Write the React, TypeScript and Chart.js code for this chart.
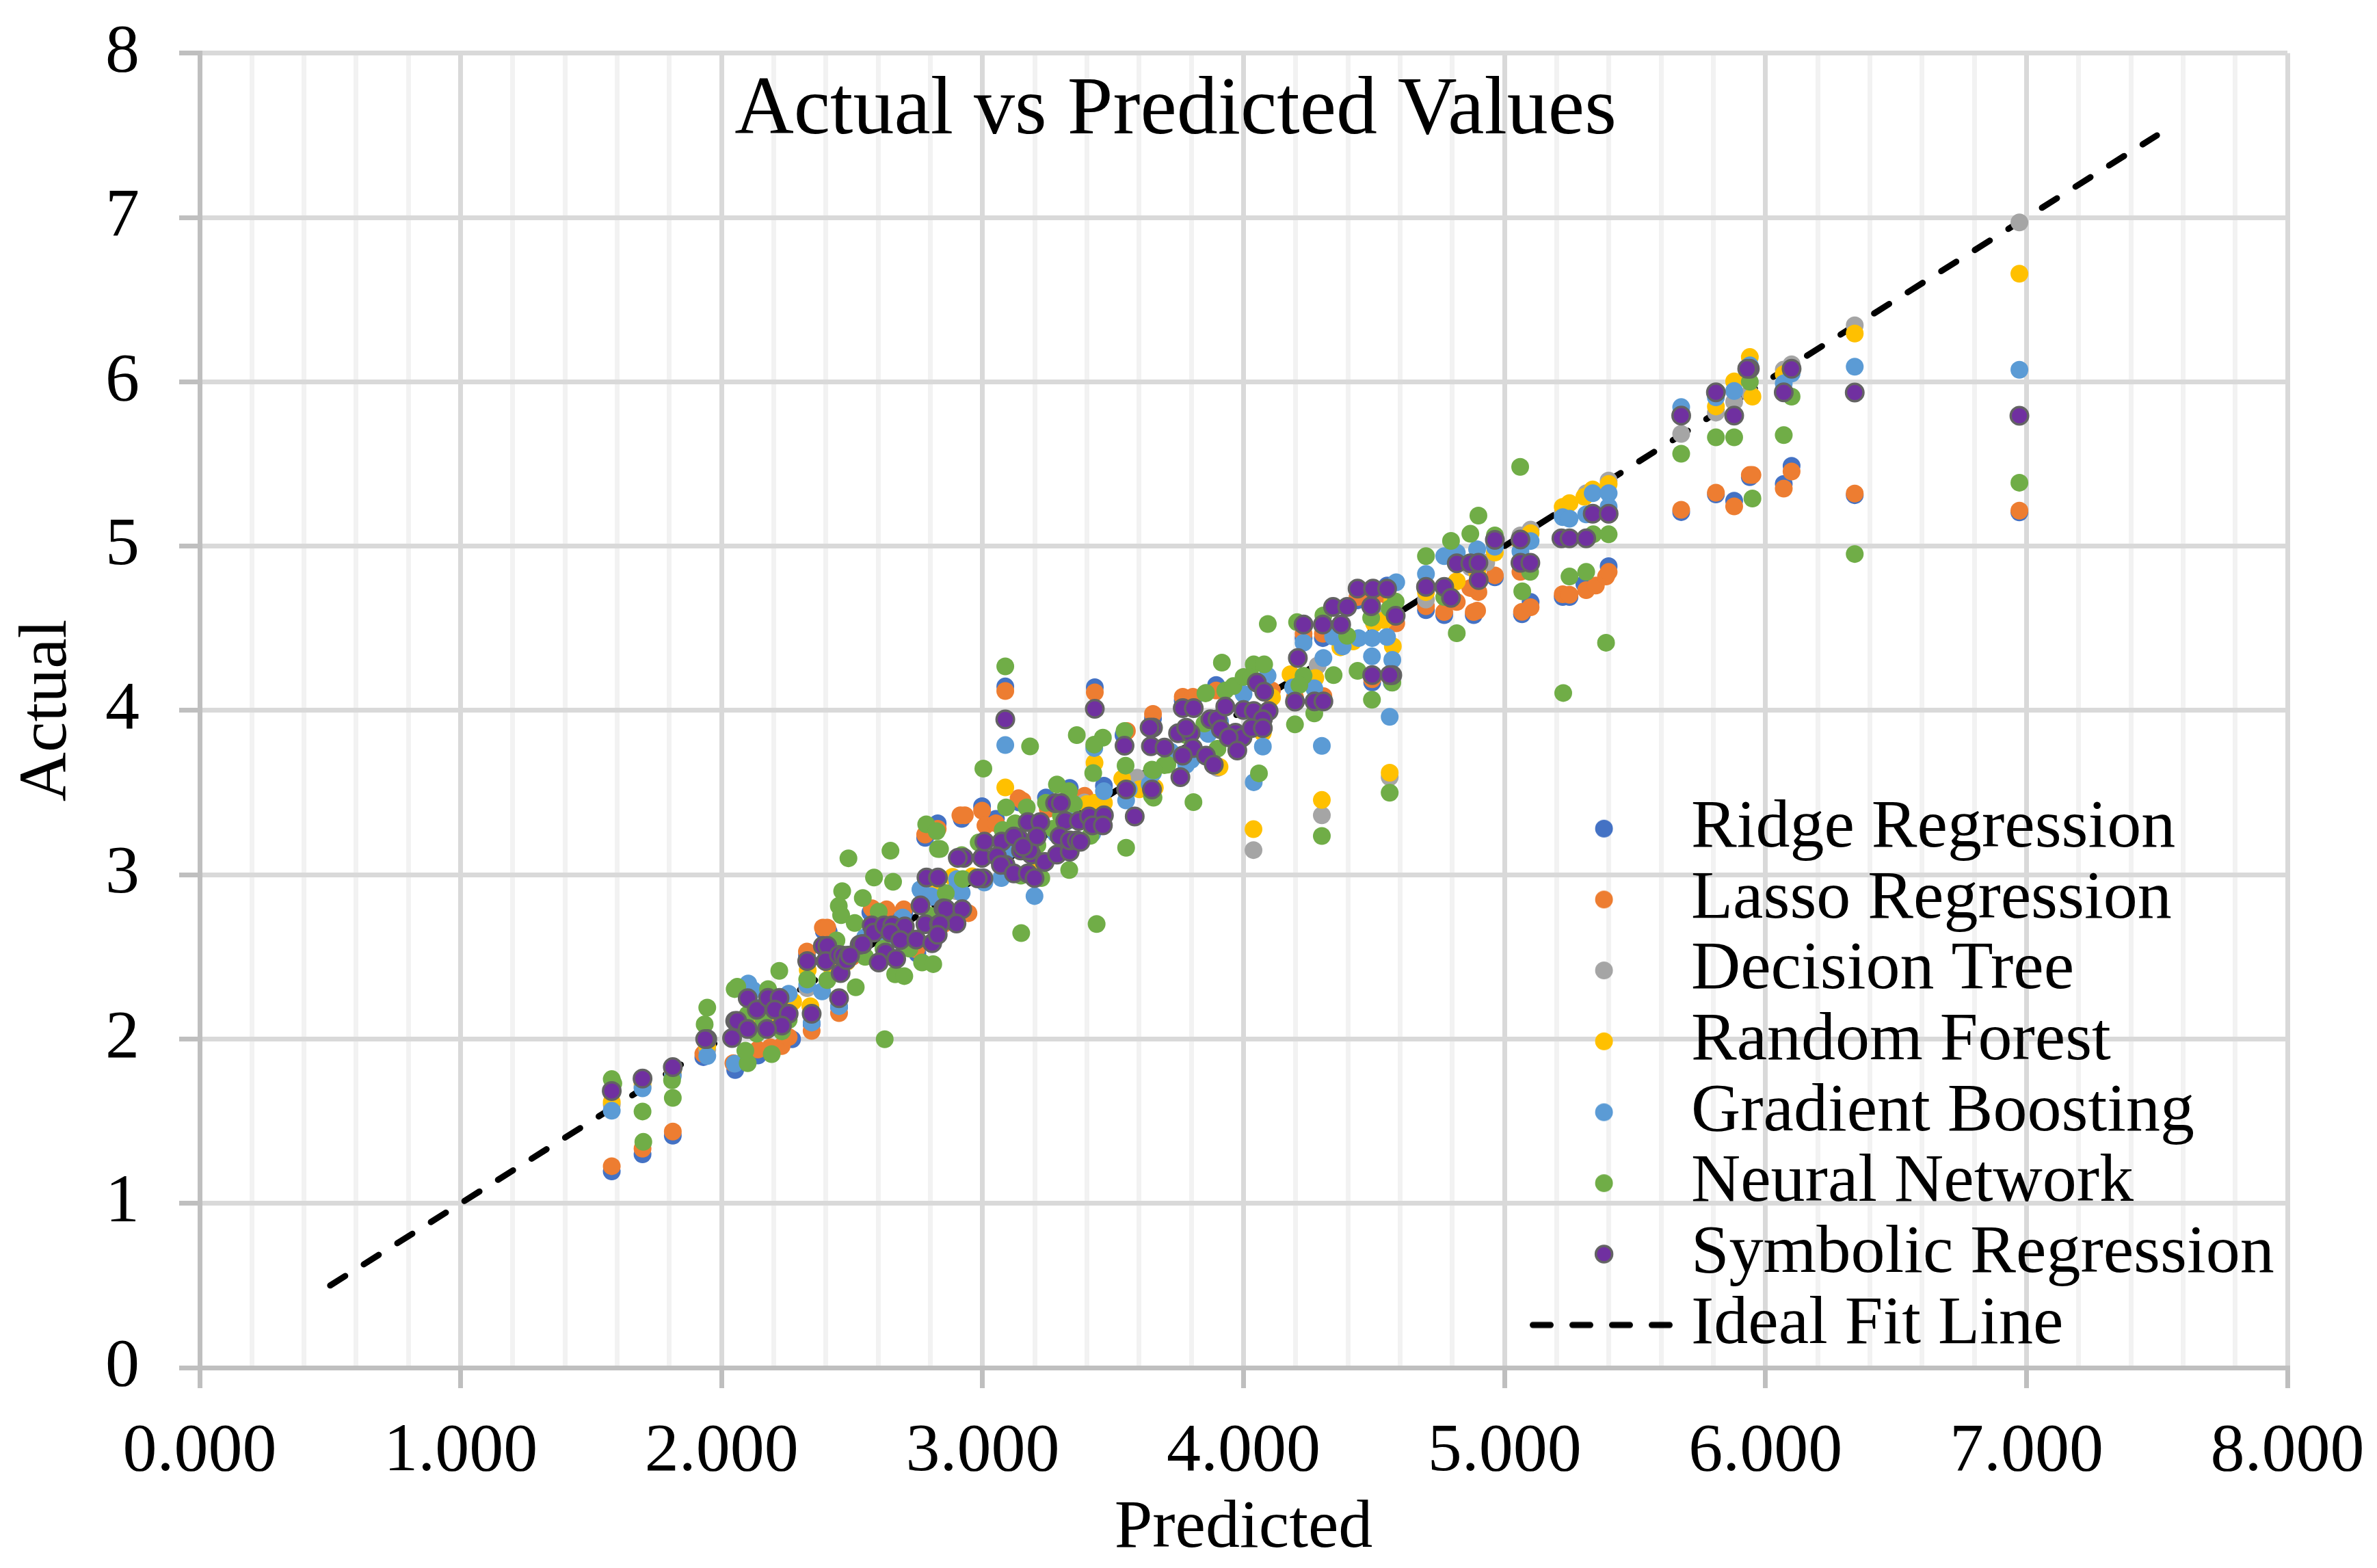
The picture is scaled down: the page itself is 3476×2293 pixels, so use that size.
import React, { useEffect, useRef } from "react";
import { Chart, registerables } from "chart.js";

Chart.register(...registerables);

type Pair = [number, number];

const titleText = "Actual vs Predicted Values";
const xTitle = "Predicted";
const yTitle = "Actual";
const seriesNames = ["Ridge Regression", "Lasso Regression", "Decision Tree", "Random Forest", "Gradient Boosting", "Neural Network", "Symbolic Regression"];
const idealName = "Ideal Fit Line";
const idealLine: Pair[] = [[0.5, 0.5], [7.5, 7.5]];

const ridgePoints: Pair[] = [
  [1.579,1.194],[1.697,1.298],[1.813,1.412],[1.93,1.89],[2.052,1.811],[2.139,1.9],[2.19,1.93],[2.27,1.999],[2.345,2.089],[2.45,2.193],[2.327,2.51],[2.392,2.655],[2.41,2.655],[2.57,2.77],[2.63,2.77],[2.7,2.77],[2.75,2.52],[2.78,3.224],[2.828,3.313],[2.92,3.34],[2.998,3.417],[3.051,3.34],[3.087,4.146],[3.14,3.44],[3.243,3.47],[3.334,3.528],[3.39,3.46],[3.43,4.141],[3.465,3.542],[3.54,3.85],[3.653,3.951],[3.767,4.06],[3.806,4.06],[3.895,4.155],[4.1,4.1],[4.23,4.44],[4.304,4.44],[4.37,4.47],[4.2,4.06],[4.306,4.065],[4.437,4.67],[4.55,4.76],[4.493,4.17],[4.568,4.17],[4.699,4.61],[4.769,4.58],[4.882,4.58],[4.963,4.81],[5.067,4.585],[5.1,4.66],[5.223,4.69],[5.249,4.69],[5.306,4.77],[5.399,4.878],[5.677,5.207],[5.81,5.315],[5.88,5.276],[5.94,5.42],[6.07,5.378],[6.1,5.489],[6.342,5.31],[6.973,5.205],
];

const lassoPoints: Pair[] = [
  [1.579,1.226],[1.697,1.333],[1.813,1.437],[1.93,1.91],[2.045,1.853],[2.139,1.936],[2.187,1.95],[2.23,1.957],[2.257,2.012],[2.345,2.05],[2.45,2.158],[2.327,2.533],[2.388,2.678],[2.405,2.678],[2.5,2.5],[2.576,2.796],[2.632,2.789],[2.698,2.789],[2.746,2.546],[2.85,2.7],[2.946,2.766],[2.78,3.244],[2.828,3.28],[2.915,3.362],[2.932,3.362],[2.998,3.39],[3.011,3.3],[3.051,3.313],[3.087,4.118],[3.138,3.466],[3.153,3.45],[3.25,3.4],[3.391,3.48],[3.43,4.11],[3.553,3.875],[3.653,3.979],[3.767,4.083],[3.806,4.083],[3.895,4.121],[4.109,4.121],[4.23,4.467],[4.304,4.467],[4.37,4.49],[4.197,4.08],[4.306,4.087],[4.437,4.69],[4.5,4.69],[4.55,4.7],[4.493,4.19],[4.568,4.19],[4.585,4.53],[4.699,4.634],[4.769,4.599],[4.817,4.66],[4.869,4.745],[4.882,4.599],[4.9,4.72],[4.895,4.607],[4.963,4.822],[5.061,4.843],[5.067,4.6],[5.1,4.628],[5.223,4.707],[5.249,4.704],[5.313,4.732],[5.35,4.76],[5.389,4.815],[5.399,4.843],[5.677,5.221],[5.81,5.325],[5.88,5.242],[5.94,5.433],[5.95,5.433],[6.07,5.35],[6.1,5.454],[6.342,5.32],[6.973,5.216],
];

const treePoints: Pair[] = [
  [1.579,1.6],[1.697,1.71],[1.813,1.79],[1.945,1.936],[2.328,2.31],[2.9,2.9],[3.2,3.2],[3.39,3.44],[3.592,3.591],[3.9,3.65],[4.0,4.0],[4.038,3.15],[4.284,4.273],[4.3,3.362],[4.55,4.58],[4.56,3.594],[4.699,4.675],[4.87,4.87],[4.93,4.9],[5.061,5.065],[5.1,5.1],[5.223,5.2],[5.314,5.322],[5.399,5.399],[5.677,5.683],[5.81,5.8125],[5.88,5.878],[5.94,5.93],[6.07,6.074],[6.1,6.107],[6.342,6.344],[6.973,6.97],
];

const forestPoints: Pair[] = [
  [1.579,1.617],[1.697,1.728],[1.813,1.804],[1.945,1.96],[2.1,2.1],[2.18,2.12],[2.274,2.227],[2.34,2.2],[2.33,2.42],[2.42,2.44],[2.48,2.47],[2.694,2.72],[2.82,2.925],[2.885,2.987],[2.96,2.99],[3.087,3.531],[3.199,3.03],[3.4,3.43],[3.429,3.681],[3.431,3.438],[3.465,3.438],[3.535,3.584],[3.601,3.52],[3.66,3.53],[3.908,3.656],[4.074,3.864],[4.109,4.079],[4.038,3.277],[4.18,4.22],[4.275,4.197],[4.3,3.455],[4.371,4.384],[4.42,4.42],[4.5,4.53],[4.54,4.55],[4.56,3.621],[4.572,4.391],[4.57,4.67],[4.699,4.72],[4.817,4.786],[4.895,4.84],[4.963,4.961],[5.061,5.02],[5.1,5.079],[5.223,5.239],[5.249,5.262],[5.306,5.3],[5.338,5.345],[5.399,5.378],[5.677,5.8],[5.81,5.85],[5.88,6.003],[5.94,6.151],[5.95,5.91],[6.07,6.046],[6.1,6.08],[6.342,6.294],[6.973,6.658],
];

const boostingPoints: Pair[] = [
  [1.579,1.564],[1.697,1.7],[1.813,1.777],[1.945,1.897],[2.102,2.338],[2.121,2.297],[2.257,2.276],[2.12,2.2],[2.05,1.85],[2.328,2.331],[2.385,2.29],[2.345,2.1],[2.45,2.2],[2.55,2.62],[2.64,2.6],[2.694,2.74],[2.763,2.907],[2.807,2.865],[2.762,2.911],[2.802,2.87],[2.902,2.925],[2.92,2.89],[2.902,2.974],[3.007,2.953],[3.072,2.98],[3.087,3.789],[3.1,3.15],[3.2,3.2],[3.199,2.87],[3.28,3.25],[3.33,3.33],[3.42,3.25],[3.428,3.771],[3.465,3.508],[3.55,3.452],[3.56,3.52],[3.64,3.55],[3.653,3.62],[3.72,3.75],[3.78,3.67],[3.8,3.7],[3.865,3.857],[3.91,3.93],[4.0,4.1],[4.074,3.78],[4.039,3.563],[4.092,4.211],[4.19,4.14],[4.271,4.135],[4.3,3.784],[4.306,4.319],[4.23,4.412],[4.343,4.45],[4.38,4.39],[4.441,4.44],[4.493,4.44],[4.55,4.447],[4.56,3.961],[4.57,4.308],[4.492,4.329],[4.585,4.78],[4.699,4.831],[4.769,4.939],[4.817,4.96],[4.895,4.981],[4.963,4.996],[5.061,4.968],[5.1,5.031],[5.223,5.176],[5.249,5.167],[5.313,5.193],[5.338,5.322],[5.399,5.322],[5.399,5.24],[5.677,5.846],[5.81,5.906],[5.88,5.944],[5.94,6.1],[6.07,5.99],[6.1,6.05],[6.342,6.092],[6.973,6.073],
];

const neuralPoints: Pair[] = [
  [1.579,1.756],[1.585,1.73],[1.697,1.559],[1.7,1.374],[1.813,1.642],[1.81,1.749],[1.935,2.089],[1.945,2.191],[2.06,2.318],[2.05,2.304],[2.178,2.304],[2.1,1.853],[2.091,1.929],[2.192,1.908],[2.257,2.116],[2.135,2.033],[2.231,2.047],[2.1,2.15],[2.16,2.12],[2.221,2.415],[2.514,2.315],[2.625,1.999],[2.328,2.363],[2.405,2.359],[2.44,2.6],[2.462,2.9],[2.449,2.81],[2.458,2.754],[2.486,3.1],[2.584,2.983],[2.647,3.146],[2.657,2.957],[2.541,2.858],[2.51,2.706],[2.55,2.5],[2.602,2.775],[2.62,2.55],[2.7,2.6],[2.72,2.55],[2.8,2.75],[2.768,2.466],[2.811,2.456],[2.665,2.394],[2.7,2.383],[2.829,3.157],[2.784,3.307],[2.824,3.265],[2.837,3.157],[2.859,2.888],[2.924,2.974],[2.92,3.119],[3.087,4.268],[3.461,3.834],[3.428,3.792],[3.424,3.619],[3.361,3.85],[3.182,3.781],[3.003,3.646],[3.437,2.7],[3.148,2.645],[3.332,3.029],[3.55,3.164],[3.808,3.442],[3.544,3.875],[3.548,3.664],[3.583,3.36],[3.649,3.48],[3.649,3.64],[3.697,3.667],[3.854,4.104],[3.767,3.72],[3.285,3.549],[3.331,3.508],[3.09,3.41],[3.169,3.41],[3.243,3.438],[3.125,3.313],[3.077,3.272],[2.985,3.196],[3.413,3.237],[3.225,2.98],[3.147,2.994],[3.321,3.452],[3.35,3.43],[3.27,3.28],[3.21,3.18],[3.3,3.36],[4.059,3.617],[4.3,3.236],[4.56,3.499],[4.492,4.065],[4.57,4.169],[4.437,4.241],[4.345,4.215],[3.917,4.291],[4.093,4.526],[4.397,4.454],[4.23,4.211],[4.214,4.155],[4.271,3.982],[4.197,3.915],[4.205,4.537],[4.306,4.578],[4.489,4.564],[4.583,4.662],[4.56,4.62],[3.856,4.107],[3.93,4.121],[3.961,4.148],[4.0,4.204],[4.039,4.28],[4.079,4.28],[4.03,4.2],[3.708,3.67],[3.655,3.635],[3.655,3.469],[3.9,3.767],[3.85,3.92],[3.78,3.85],[4.699,4.939],[4.769,4.69],[4.817,4.47],[4.795,5.032],[4.869,5.075],[4.9,5.186],[4.963,5.065],[5.06,5.482],[5.098,4.843],[5.068,4.725],[5.225,4.106],[5.249,4.815],[5.34,5.072],[5.313,4.843],[5.399,5.072],[5.389,4.412],[5.677,5.5625],[5.81,5.6625],[5.88,5.6625],[5.94,6.0],[5.95,5.29],[6.07,5.676],[6.1,5.91],[6.342,4.952],[6.973,5.386],
];

const symbolicPoints: Pair[] = [
  [1.579,1.684],[1.697,1.759],[1.813,1.829],[1.945,2.0],[1.937,2.0],[2.04,2.006],[2.052,2.11],[2.06,2.11],[2.1,2.248],[2.135,2.179],[2.178,2.251],[2.222,2.251],[2.204,2.179],[2.257,2.154],[2.231,2.082],[2.174,2.061],[2.1,2.061],[2.345,2.154],[2.45,2.248],[2.328,2.474],[2.388,2.567],[2.405,2.567],[2.399,2.474],[2.456,2.401],[2.449,2.512],[2.466,2.508],[2.486,2.508],[2.479,2.48],[2.529,2.574],[2.541,2.577],[2.575,2.692],[2.583,2.648],[2.623,2.692],[2.654,2.692],[2.702,2.685],[2.647,2.648],[2.685,2.602],[2.746,2.605],[2.807,2.584],[2.628,2.526],[2.602,2.466],[2.669,2.488],[2.781,2.699],[2.833,2.699],[2.762,2.813],[2.85,2.796],[2.785,2.983],[2.829,2.983],[2.859,2.793],[2.922,2.791],[2.9,2.703],[2.837,2.7],[2.828,2.634],[2.54,2.578],[2.492,2.509],[2.928,3.103],[2.905,3.103],[2.998,3.103],[3.007,3.202],[3.073,3.202],[3.055,3.112],[3.003,2.978],[2.981,2.978],[3.088,3.06],[3.07,3.06],[3.147,3.147],[3.187,3.122],[3.18,3.147],[3.238,3.078],[3.285,3.122],[3.334,3.14],[3.12,3.008],[3.173,3.008],[3.199,2.98],[3.173,3.32],[3.221,3.32],[3.278,3.436],[3.3,3.436],[3.317,3.327],[3.369,3.327],[3.408,3.355],[3.465,3.362],[3.421,3.3],[3.461,3.3],[3.295,3.233],[3.208,3.233],[3.334,3.209],[3.361,3.209],[3.375,3.2],[3.138,3.223],[3.12,3.233],[3.155,3.17],[3.087,3.945],[3.43,4.01],[3.544,3.785],[3.55,3.519],[3.583,3.355],[3.649,3.519],[3.653,3.896],[3.64,3.896],[3.645,3.782],[3.697,3.774],[3.758,3.594],[3.767,4.014],[3.809,4.014],[3.749,3.861],[3.797,3.861],[3.78,3.895],[3.806,3.771],[3.767,3.725],[3.856,3.725],[3.886,3.67],[3.873,3.947],[3.9,3.947],[3.93,4.024],[3.913,3.885],[3.969,3.864],[3.996,3.836],[3.943,3.836],[3.976,3.756],[4.0,4.003],[4.039,3.996],[4.096,3.996],[4.074,3.947],[4.031,3.892],[4.074,3.892],[4.051,4.169],[4.079,4.114],[4.208,4.319],[4.197,4.054],[4.272,4.055],[4.306,4.055],[4.23,4.523],[4.304,4.523],[4.374,4.523],[4.343,4.63],[4.397,4.63],[4.489,4.634],[4.437,4.741],[4.496,4.741],[4.55,4.741],[4.583,4.576],[4.493,4.215],[4.57,4.215],[4.56,4.215],[4.699,4.752],[4.769,4.752],[4.795,4.685],[4.817,4.895],[4.869,4.895],[4.901,4.793],[4.9,4.899],[4.963,5.038],[5.061,5.04],[5.061,4.899],[5.099,4.899],[5.218,5.047],[5.249,5.047],[5.313,5.047],[5.338,5.197],[5.399,5.197],[5.677,5.794],[5.81,5.936],[5.88,5.794],[5.94,6.079],[5.93,6.079],[6.07,5.936],[6.1,6.079],[6.342,5.935],[6.973,5.793],
];

const seriesPoints: Pair[][] = [ridgePoints, lassoPoints, treePoints, forestPoints, boostingPoints, neuralPoints, symbolicPoints];
const seriesColors = ["#4472C4", "#ED7D31", "#A5A5A5", "#FFC000", "#5B9BD5", "#70AD47", "#7030A0"];
const symbolicBorder = "#636363";

const serif = "'Liberation Serif', 'Times New Roman', serif";
const isWhole = (v: number) => Math.abs(v - Math.round(v)) < 1e-6;

function dotCanvas(fill: string, border?: string): HTMLCanvasElement {
  const c = document.createElement("canvas");
  c.width = 70;
  c.height = 32;
  const g = c.getContext("2d")!;
  g.beginPath();
  g.arc(53.6, 16, border ? 12 : 13, 0, Math.PI * 2);
  g.fillStyle = fill;
  g.fill();
  if (border) {
    g.lineWidth = 3.5;
    g.strokeStyle = border;
    g.stroke();
  }
  return c;
}

function dashCanvas(): HTMLCanvasElement {
  const c = document.createElement("canvas");
  c.width = 240;
  c.height = 12;
  const g = c.getContext("2d")!;
  g.lineWidth = 9;
  g.lineCap = "round";
  g.setLineDash([26, 32]);
  g.beginPath();
  g.moveTo(34.5, 6);
  g.lineTo(239, 6);
  g.strokeStyle = "#000000";
  g.stroke();
  return c;
}

const placeBoxes = {
  id: "placeBoxes",
  beforeDraw(chart: any) {
    const t = chart.titleBlock;
    if (t) {
      t.left = 1719 - 1500;
      t.right = 1719 + 1500;
      t.top = 164 - 29.5;
      t.bottom = 164 + 29.5;
    }
    const l = chart.legend;
    if (l) {
      l.left = 2227.3;
      l.right = 3476;
      l.top = 1158;
      l.bottom = 2293;
      l.width = l.right - l.left;
      l.height = l.bottom - l.top;
    }
  },
};

export default function App() {
  const ref = useRef<HTMLCanvasElement>(null);
  useEffect(() => {
    const icons = seriesColors.map((c, i) => dotCanvas(c, i === 6 ? symbolicBorder : undefined));
    const dash = dashCanvas();
    const datasets: any[] = seriesNames.map((name, i) => ({
      label: name,
      data: seriesPoints[i].map(([x, y]) => ({ x, y })),
      backgroundColor: seriesColors[i],
      borderColor: i === 6 ? symbolicBorder : seriesColors[i],
      borderWidth: i === 6 ? 3.5 : 0,
      pointRadius: i === 6 ? 12.75 : 13,
      pointHoverRadius: 13,
      showLine: false,
      order: 8 - i,
    }));
    datasets.push({
      label: idealName,
      data: idealLine.map(([x, y]) => ({ x, y })),
      borderColor: "#000000",
      backgroundColor: "#000000",
      borderWidth: 9,
      borderDash: [26, 32],
      borderCapStyle: "round",
      pointRadius: 0,
      showLine: true,
      order: 100,
    });
    const chart = new Chart(ref.current!, {
      type: "scatter",
      data: { datasets },
      plugins: [placeBoxes],
      options: {
        responsive: false,
        animation: false,
        devicePixelRatio: 1,
        layout: { autoPadding: false, padding: { left: 0, top: 19, right: 131, bottom: 0 } },
        plugins: {
          tooltip: { enabled: false },
          title: {
            display: true,
            text: titleText,
            color: "#000000",
            padding: 0,
            font: { family: serif, size: 120, weight: "normal", lineHeight: 0.49 },
          },
          legend: {
            display: true,
            position: "chartArea",
            align: "start",
            labels: {
              usePointStyle: true,
              pointStyleWidth: 192,
              padding: 3.7,
              color: "#000000",
              font: { family: serif, size: 100 },
              generateLabels: () =>
                [...seriesNames, idealName].map((text, i) => ({
                  text,
                  fillStyle: "transparent",
                  strokeStyle: "transparent",
                  lineWidth: 0,
                  hidden: false,
                  datasetIndex: i,
                  pointStyle: i < icons.length ? icons[i] : dash,
                })),
            },
          },
        } as any,
        scales: {
          x: {
            type: "linear",
            min: 0,
            max: 8,
            afterFit: (s: any) => {
              s.height = 293;
              s.paddingLeft = 0;
              s.paddingRight = 0;
            },
            title: {
              display: true,
              text: xTitle,
              color: "#000000",
              padding: 0,
              font: { family: serif, size: 100, lineHeight: 1.14 },
            },
            border: { color: "#bfbfbf", width: 7 },
            grid: {
              color: (c: any) => (isWhole(c.tick.value) ? "#d9d9d9" : "#f2f2f2"),
              lineWidth: 7,
              tickLength: 30,
              tickColor: (c: any) => (isWhole(c.tick.value) ? "#bfbfbf" : "rgba(0,0,0,0)"),
              tickWidth: 7,
            },
            ticks: {
              stepSize: 0.2,
              autoSkip: false,
              maxRotation: 0,
              minRotation: 0,
              padding: 34,
              color: "#000000",
              font: { family: serif, size: 100 },
              callback: (v: any) => (isWhole(Number(v)) ? Math.round(Number(v)).toFixed(3) : ""),
            },
          },
          y: {
            type: "linear",
            min: 0,
            max: 8,
            afterFit: (s: any) => {
              s.width = 292;
              s.paddingTop = 0;
              s.paddingBottom = 0;
            },
            title: {
              display: true,
              text: yTitle,
              color: "#000000",
              padding: { top: 10, bottom: 0 },
              font: { family: serif, size: 100, lineHeight: 1.2 },
            },
            border: { color: "#bfbfbf", width: 7 },
            grid: {
              color: "#d9d9d9",
              lineWidth: 7,
              tickLength: 30,
              tickColor: "#bfbfbf",
              tickWidth: 7,
            },
            ticks: {
              stepSize: 1,
              padding: 58,
              color: "#000000",
              font: { family: serif, size: 100 },
              callback: (v: any) => String(Math.round(Number(v))),
            },
          },
        },
      } as any,
    });
    return () => chart.destroy();
  }, []);
  return (
    <canvas
      ref={ref}
      width={3476}
      height={2293}
      style={{ position: "absolute", left: 0, top: 0, display: "block", width: 3476, height: 2293 }}
    />
  );
}
